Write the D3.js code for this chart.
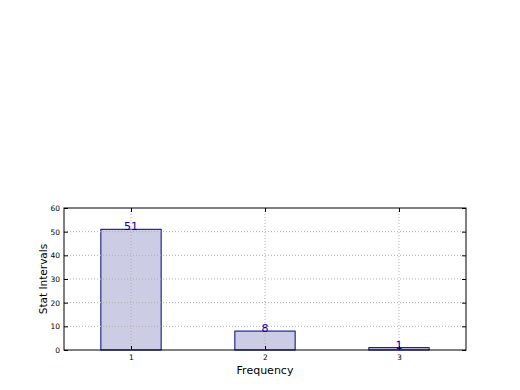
<!DOCTYPE html>
<html><head><meta charset="utf-8">
<script src="https://cdn.jsdelivr.net/npm/d3@7"></script>
<style>body{margin:0;background:#fff}svg{display:block}text{font-family:"DejaVu Sans",sans-serif}</style>
</head><body><svg id="c" width="520" height="390"></svg>
<script>
const categories = [1, 2, 3];
const values = [51, 8, 1];
const yTicks = [0, 10, 20, 30, 40, 50, 60];

const svg = d3.select("#c");
const L = 64, R = 466, T = 208, B = 350;
const x = d3.scaleLinear().domain([0.5, 3.5]).range([L, R]);
const y = d3.scaleLinear().domain([0, 60]).range([B, T]);
const bw = 0.45;
const gridCol = "#b0b0b0";

// bars
svg.selectAll(".bar").data(values).enter().append("rect")
  .attr("x", (d, i) => x(categories[i] - bw / 2))
  .attr("width", (d, i) => x(categories[i] + bw / 2) - x(categories[i] - bw / 2))
  .attr("y", d => y(d)).attr("height", d => B - y(d))
  .attr("fill", "#ccccE5").attr("stroke", "#000080").attr("stroke-width", 1);

// grid
svg.selectAll(".gy").data(yTicks.filter(t => t > 0 && t < 60)).enter().append("line")
  .attr("x1", L).attr("x2", R).attr("y1", d => y(d)).attr("y2", d => y(d))
  .attr("stroke", gridCol).attr("stroke-dasharray", "1,2");
svg.selectAll(".gx").data(categories).enter().append("line")
  .attr("x1", d => x(d)).attr("x2", d => x(d)).attr("y1", T).attr("y2", B)
  .attr("stroke", gridCol).attr("stroke-dasharray", "1,2");

// value labels
svg.selectAll(".lbl").data(values).enter().append("text")
  .attr("x", (d, i) => x(categories[i])).attr("y", d => y(d) + 1)
  .attr("text-anchor", "middle").attr("font-size", 11).attr("fill", "#0000aa")
  .text(d => d);

// axes (ticks inside)
const yAx = d3.axisLeft(y).tickValues(yTicks).tickSize(-4).tickPadding(4);
const yR = d3.axisRight(y).tickValues(yTicks).tickSize(-4).tickFormat("");
const xAx = d3.axisBottom(x).tickValues(categories).tickFormat(d3.format("d")).tickSize(-4).tickPadding(5);
const xT = d3.axisTop(x).tickValues(categories).tickSize(-4).tickFormat("");
function style(sel) {
  sel.attr("font-family", null);
  sel.select(".domain").remove();
  sel.selectAll("text").attr("font-size", 7.5).attr("fill", "#000");
  sel.selectAll("line").attr("stroke", "#000");
}
svg.append("g").attr("transform", `translate(${L},0)`).call(yAx).call(style);
svg.append("g").attr("transform", `translate(${R},0)`).call(yR).call(style);
svg.append("g").attr("transform", `translate(0,${B})`).call(xAx).call(style);
svg.append("g").attr("transform", `translate(0,${T})`).call(xT).call(style);

svg.append("rect").attr("x", L).attr("y", T).attr("width", R - L).attr("height", B - T)
  .attr("fill", "none").attr("stroke", "#000").attr("stroke-width", 1);

svg.append("text").attr("x", (L + R) / 2).attr("y", 374).attr("text-anchor", "middle")
  .attr("font-size", 11).text("Frequency");
svg.append("text").attr("transform", `translate(47,${(T + B) / 2}) rotate(-90)`)
  .attr("text-anchor", "middle").attr("font-size", 10.5).text("Stat Intervals");
</script></body></html>
